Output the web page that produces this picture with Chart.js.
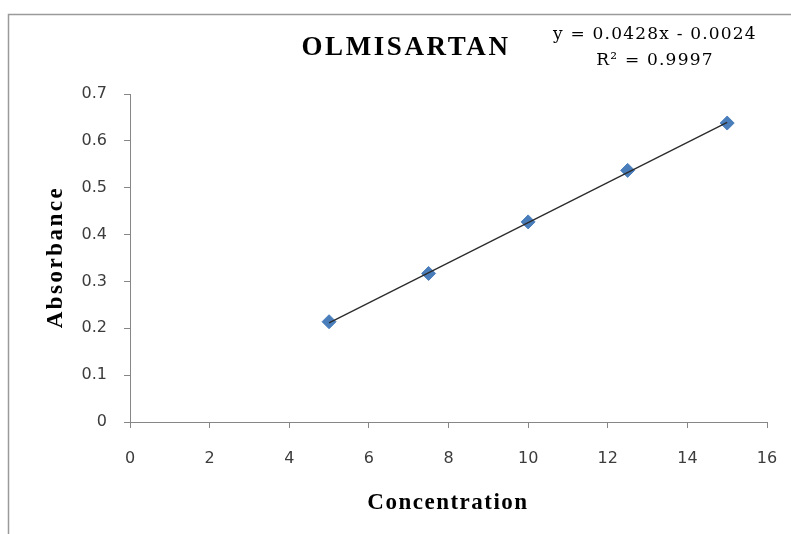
<!DOCTYPE html>
<html>
<head>
<meta charset="utf-8">
<script src="https://cdn.jsdelivr.net/npm/chart.js@4"></script>
<style>
  html, body { margin: 0; padding: 0; background: #fff; }
  #wrap { width: 791px; height: 534px; }
</style>
</head>
<body>
<div id="wrap"><canvas id="calChart" width="791" height="534"></canvas></div>
<script>
// Calibration data (concentration vs absorbance)
const concentration = [5, 7.5, 10, 12.5, 15];
const absorbance = [0.214, 0.317, 0.427, 0.537, 0.638];

// Linear trendline endpoints
const trendX = [5, 15];
const trendY = [0.2116, 0.6396];

const xTicks = [0, 2, 4, 6, 8, 10, 12, 14, 16];
const yTicks = [0, 0.1, 0.2, 0.3, 0.4, 0.5, 0.6, 0.7];

const chartTitle = 'OLMISARTAN';
const equationLines = ['y = 0.0428x - 0.0024', 'R\u00B2 = 0.9997'];
const xTitle = 'Concentration';
const yTitle = 'Absorbance';

const axisColor = '#868686';

// Draws the outer frame, title, equation and axis titles
const chartText = {
  id: 'chartText',
  beforeDraw(chart) {
    const ctx = chart.ctx;
    ctx.save();
    ctx.strokeStyle = '#9a9a9a';
    ctx.lineWidth = 1.5;
    ctx.strokeRect(8.5, 14.5, 900, 600);
    ctx.restore();
  },
  afterDraw(chart) {
    const ctx = chart.ctx;
    ctx.save();
    ctx.fillStyle = '#000';
    ctx.textBaseline = 'alphabetic';
    ctx.textAlign = 'center';

    ctx.font = 'bold 27px "Liberation Serif"';
    ctx.letterSpacing = '2.6px';
    ctx.fillText(chartTitle, 406, 55);

    ctx.font = '17px "DejaVu Serif"';
    ctx.letterSpacing = '1.2px';
    ctx.fillText(equationLines[0], 655, 39);
    ctx.fillText(equationLines[1], 655, 65);

    ctx.font = 'bold 23px "Liberation Serif"';
    ctx.letterSpacing = '1.5px';
    ctx.fillText(xTitle, 448, 509);

    ctx.letterSpacing = '2.5px';
    ctx.translate(62, 257);
    ctx.rotate(-Math.PI / 2);
    ctx.fillText(yTitle, 0, 0);
    ctx.restore();
  }
};

const ctx = document.getElementById('calChart').getContext('2d');
new Chart(ctx, {
  type: 'scatter',
  data: {
    datasets: [
      {
        label: 'Linear',
        type: 'line',
        data: trendX.map((x, i) => ({ x: x, y: trendY[i] })),
        borderColor: '#2b2b2b',
        borderWidth: 1.3,
        pointRadius: 0,
        fill: false,
        order: 0
      },
      {
        label: 'Absorbance',
        data: concentration.map((x, i) => ({ x: x, y: absorbance[i] })),
        pointStyle: 'rectRot',
        pointRadius: 7,
        pointBackgroundColor: '#4a7ebb',
        pointBorderColor: '#4a7ebb',
        pointBorderWidth: 1,
        order: 1
      }
    ]
  },
  options: {
    responsive: false,
    animation: false,
    layout: { padding: { top: 94, right: 24, left: 0, bottom: 0 } },
    plugins: {
      legend: { display: false },
      title: { display: false },
      tooltip: { enabled: false }
    },
    scales: {
      x: {
        type: 'linear',
        min: xTicks[0],
        max: xTicks[xTicks.length - 1],
        afterBuildTicks: (scale) => { scale.ticks = xTicks.map(v => ({ value: v })); },
        afterFit: (scale) => {
          scale.height = 112;
          // tick padding is large here, keep it from eating the right edge
          scale.paddingRight = 0;
          scale.paddingLeft = 0;
        },
        ticks: {
          padding: 21,
          color: '#3c3c3c',
          font: { family: '"DejaVu Sans"', size: 16 },
          callback: (v) => String(v)
        },
        grid: { drawOnChartArea: false, drawTicks: true, tickLength: 6, color: axisColor },
        border: { display: true, color: axisColor, width: 1 }
      },
      y: {
        type: 'linear',
        min: yTicks[0],
        max: yTicks[yTicks.length - 1],
        afterBuildTicks: (scale) => { scale.ticks = yTicks.map(v => ({ value: v })); },
        afterFit: (scale) => { scale.width = 130; },
        ticks: {
          padding: 17,
          color: '#3c3c3c',
          font: { family: '"DejaVu Sans"', size: 16 },
          callback: (v) => String(Number(v.toFixed(1)))
        },
        grid: { drawOnChartArea: false, drawTicks: true, tickLength: 6, color: axisColor },
        border: { display: true, color: axisColor, width: 1 }
      }
    }
  },
  plugins: [chartText]
});
</script>
</body>
</html>
